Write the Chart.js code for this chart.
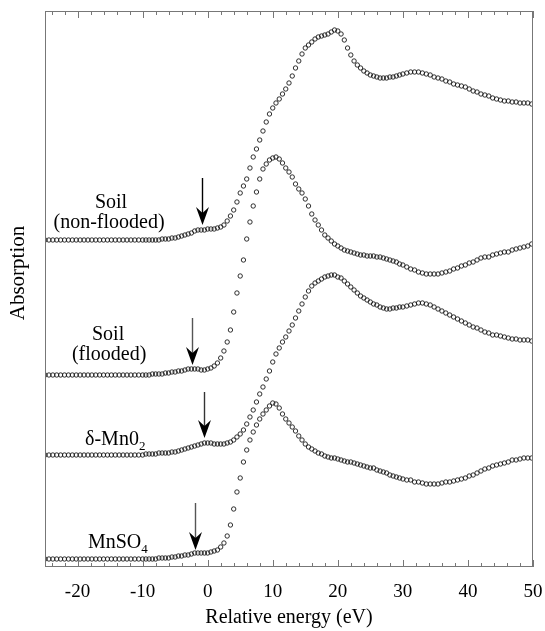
<!DOCTYPE html>
<html>
<head>
<meta charset="utf-8">
<script src="https://cdn.jsdelivr.net/npm/chart.js@4.4.1/dist/chart.umd.min.js"></script>
<style>
  body { margin: 0; background: #fff; }
  #wrap { width: 545px; height: 631px; position: relative; }
</style>
</head>
<body>
<div id="wrap"><canvas id="xanes"></canvas></div>
<script>
// energy grid (eV): coarse pre-edge, fine edge region, coarse post-edge
const energyPre = [
  -25, -24.4, -23.8, -23.2, -22.6, -22, -21.4, -20.8, -20.2, -19.6,
  -19, -18.4, -17.8, -17.2, -16.6, -16, -15.4, -14.8, -14.2, -13.6,
  -13, -12.4, -11.8, -11.2, -10.6
];
const energyEdge = [
  -10, -9.5, -9, -8.5, -8, -7.5, -7, -6.5, -6, -5.5,
  -5, -4.5, -4, -3.5, -3, -2.5, -2, -1.5, -1, -0.5,
  0, 0.5, 1, 1.5, 2, 2.5, 3, 3.5, 4, 4.5,
  5, 5.5, 6, 6.5, 7, 7.5, 8, 8.5, 9, 9.5,
  10, 10.5, 11, 11.5, 12, 12.5, 13, 13.5, 14, 14.5,
  15, 15.5, 16, 16.5, 17, 17.5, 18, 18.5, 19, 19.5,
  20, 20.5, 21, 21.5, 22, 22.5, 23, 23.5, 24, 24.5,
  25, 25.5, 26, 26.5, 27, 27.5, 28, 28.5, 29, 29.5,
  30
];
const energyPost = [
  30.6, 31.2, 31.8, 32.4, 33, 33.6, 34.2, 34.8, 35.4, 36,
  36.6, 37.2, 37.8, 38.4, 39, 39.6, 40.2, 40.8, 41.4, 42,
  42.6, 43.2, 43.8, 44.4, 45, 45.6, 46.2, 46.8, 47.4, 48,
  48.6, 49.2, 49.8
];

// absorption (offset, arbitrary units)
const soilNonFloodedPre = [
  3.27, 3.27, 3.27, 3.27, 3.27, 3.27, 3.27, 3.27, 3.27, 3.27,
  3.27, 3.27, 3.27, 3.27, 3.27, 3.27, 3.27, 3.27, 3.27, 3.27,
  3.27, 3.27, 3.27, 3.27, 3.27
];
const soilNonFloodedEdge = [
  3.27, 3.27, 3.27, 3.27, 3.27, 3.27, 3.28, 3.28, 3.28, 3.29,
  3.29, 3.30, 3.31, 3.32, 3.33, 3.34, 3.36, 3.37, 3.37, 3.37,
  3.38, 3.38, 3.38, 3.39, 3.40, 3.42, 3.46, 3.51, 3.57, 3.65,
  3.74, 3.81, 3.88, 3.99, 4.10, 4.18, 4.27, 4.36, 4.45, 4.53,
  4.59, 4.64, 4.68, 4.73, 4.78, 4.84, 4.91, 4.99, 5.06, 5.13,
  5.19, 5.22, 5.25, 5.28, 5.30, 5.31, 5.32, 5.33, 5.35, 5.37,
  5.36, 5.33, 5.27, 5.19, 5.12, 5.06, 5.02, 4.99, 4.96, 4.94,
  4.92, 4.91, 4.90, 4.89, 4.89, 4.89, 4.90, 4.90, 4.91, 4.92,
  4.93
];
const soilNonFloodedPost = [
  4.94, 4.95, 4.95, 4.95, 4.94, 4.93, 4.92, 4.90, 4.89, 4.88,
  4.86, 4.85, 4.83, 4.82, 4.81, 4.80, 4.78, 4.76, 4.75, 4.73,
  4.72, 4.71, 4.69, 4.68, 4.67, 4.66, 4.66, 4.65, 4.65, 4.64,
  4.64, 4.64, 4.63
];

const soilFloodedPre = [
  1.92, 1.92, 1.92, 1.92, 1.92, 1.92, 1.92, 1.92, 1.92, 1.92,
  1.92, 1.92, 1.92, 1.92, 1.92, 1.92, 1.92, 1.92, 1.92, 1.92,
  1.92, 1.92, 1.92, 1.92, 1.92
];
const soilFloodedEdge = [
  1.92, 1.92, 1.92, 1.93, 1.93, 1.93, 1.93, 1.94, 1.94, 1.95,
  1.95, 1.96, 1.96, 1.97, 1.98, 1.98, 1.98, 1.98, 1.97, 1.97,
  1.98, 1.99, 2.01, 2.04, 2.09, 2.16, 2.25, 2.37, 2.55, 2.74,
  2.91, 3.07, 3.28, 3.45, 3.61, 3.75, 3.88, 3.98, 4.03, 4.07,
  4.09, 4.10, 4.08, 4.04, 3.99, 3.95, 3.90, 3.83, 3.78, 3.74,
  3.68, 3.61, 3.53, 3.47, 3.42, 3.37, 3.32, 3.29, 3.26, 3.23,
  3.21, 3.19, 3.17, 3.16, 3.15, 3.14, 3.13, 3.12, 3.12, 3.11,
  3.11, 3.11, 3.10, 3.10, 3.09, 3.08, 3.07, 3.06, 3.05, 3.03,
  3.02
];
const soilFloodedPost = [
  3.00, 2.98, 2.97, 2.95, 2.94, 2.93, 2.93, 2.93, 2.93, 2.94,
  2.95, 2.96, 2.98, 2.99, 3.01, 3.02, 3.04, 3.05, 3.07, 3.09,
  3.10, 3.10, 3.12, 3.13, 3.14, 3.15, 3.15, 3.17, 3.18, 3.19,
  3.20, 3.21, 3.23
];

const deltaMnO2Pre = [
  1.12, 1.12, 1.12, 1.12, 1.12, 1.12, 1.12, 1.12, 1.12, 1.12,
  1.12, 1.12, 1.12, 1.12, 1.12, 1.12, 1.12, 1.12, 1.12, 1.12,
  1.12, 1.12, 1.12, 1.12, 1.12
];
const deltaMnO2Edge = [
  1.12, 1.13, 1.13, 1.13, 1.13, 1.14, 1.14, 1.14, 1.14, 1.15,
  1.15, 1.16, 1.17, 1.18, 1.19, 1.20, 1.21, 1.22, 1.23, 1.24,
  1.24, 1.24, 1.23, 1.23, 1.23, 1.23, 1.24, 1.25, 1.27, 1.30,
  1.33, 1.37, 1.43, 1.50, 1.57, 1.65, 1.73, 1.80, 1.88, 1.96,
  2.05, 2.13, 2.19, 2.25, 2.30, 2.36, 2.42, 2.49, 2.56, 2.63,
  2.70, 2.76, 2.81, 2.84, 2.86, 2.88, 2.90, 2.91, 2.92, 2.92,
  2.90, 2.89, 2.86, 2.83, 2.80, 2.77, 2.74, 2.71, 2.69, 2.67,
  2.65, 2.63, 2.62, 2.60, 2.59, 2.58, 2.58, 2.59, 2.59, 2.60,
  2.60
];
const deltaMnO2Post = [
  2.61, 2.62, 2.63, 2.64, 2.64, 2.63, 2.62, 2.60, 2.58, 2.56,
  2.54, 2.52, 2.50, 2.48, 2.46, 2.44, 2.42, 2.40, 2.39, 2.37,
  2.35, 2.34, 2.32, 2.32, 2.31, 2.30, 2.29, 2.28, 2.28, 2.27,
  2.27, 2.27, 2.26
];

const mnSO4Pre = [
  0.08, 0.08, 0.08, 0.08, 0.08, 0.08, 0.08, 0.08, 0.08, 0.08,
  0.08, 0.08, 0.08, 0.08, 0.08, 0.08, 0.08, 0.08, 0.08, 0.08,
  0.08, 0.08, 0.08, 0.08, 0.08
];
const mnSO4Edge = [
  0.08, 0.08, 0.08, 0.08, 0.08, 0.09, 0.09, 0.09, 0.09, 0.10,
  0.10, 0.11, 0.11, 0.12, 0.12, 0.13, 0.14, 0.14, 0.14, 0.14,
  0.14, 0.15, 0.16, 0.17, 0.20, 0.24, 0.31, 0.42, 0.58, 0.75,
  0.89, 1.05, 1.17, 1.27, 1.35, 1.42, 1.48, 1.53, 1.57, 1.61,
  1.64, 1.63, 1.59, 1.53, 1.48, 1.44, 1.40, 1.36, 1.31, 1.27,
  1.23, 1.20, 1.18, 1.16, 1.14, 1.13, 1.11, 1.10, 1.09, 1.09,
  1.08, 1.07, 1.06, 1.05, 1.05, 1.04, 1.03, 1.02, 1.01, 1.00,
  0.99, 0.99, 0.97, 0.96, 0.95, 0.94, 0.92, 0.91, 0.90, 0.89,
  0.88
];
const mnSO4Post = [
  0.87, 0.87, 0.85, 0.85, 0.84, 0.83, 0.83, 0.83, 0.83, 0.84,
  0.85, 0.85, 0.86, 0.87, 0.88, 0.89, 0.91, 0.92, 0.94, 0.96,
  0.98, 0.99, 1.01, 1.02, 1.03, 1.04, 1.05, 1.07, 1.07, 1.08,
  1.09, 1.09, 1.09
];

const xTickLabels = [-20, -10, 0, 10, 20, 30, 40, 50];

// pre-edge arrows: energy, top and tip in absorption units
const arrowX = [-0.85, -2.4, -0.5, -2.0];
const arrowTop = [3.89, 2.49, 1.75, 0.64];
const arrowTip = [3.42, 2.02, 1.29, 0.17];

const serif = '"Liberation Serif", "Times New Roman", serif';
const energy = [...energyPre, ...energyEdge, ...energyPost];

function series(pre, edge, post) {
  const values = [...pre, ...edge, ...post];
  return energy.map((e, i) => ({ x: e, y: values[i] }));
}

function pointSet(label, data) {
  return {
    label: label,
    data: data,
    showLine: false,
    pointStyle: 'circle',
    pointRadius: 2.2,
    pointBorderWidth: 0.9,
    pointBorderColor: '#1a1a1a',
    pointBackgroundColor: 'rgba(0,0,0,0)'
  };
}

function drawArrow(ctx, x, yTop, yTip, color) {
  ctx.save();
  ctx.strokeStyle = color;
  ctx.fillStyle = '#000';
  ctx.lineWidth = 1.4;
  ctx.beginPath();
  ctx.moveTo(x, yTop);
  ctx.lineTo(x, yTip - 8);
  ctx.stroke();
  ctx.beginPath();
  ctx.moveTo(x, yTip);
  ctx.lineTo(x - 6.5, yTip - 18);
  ctx.lineTo(x, yTip - 12);
  ctx.lineTo(x + 6.5, yTip - 18);
  ctx.closePath();
  ctx.fill();
  ctx.restore();
}

function drawSub(ctx, main, sub, x, y) {
  ctx.textAlign = 'left';
  ctx.textBaseline = 'middle';
  ctx.font = '20px ' + serif;
  ctx.fillText(main, x, y);
  const w = ctx.measureText(main).width;
  ctx.font = '13px ' + serif;
  ctx.fillText(sub, x + w, y + 7);
}

const decorations = {
  id: 'decorations',
  afterDraw(chart) {
    const ctx = chart.ctx;
    const area = chart.chartArea;
    const xs = chart.scales.x;
    const ys = chart.scales.y;

    // frame
    ctx.save();
    ctx.strokeStyle = '#777';
    ctx.lineWidth = 1;
    ctx.strokeRect(area.left + 0.5, area.top + 0.5, area.right - area.left - 1, area.bottom - area.top - 1);

    // inward tick marks on bottom and top, every 2 eV
    ctx.beginPath();
    for (let v = -24; v <= 50; v += 2) {
      const px = Math.round(xs.getPixelForValue(v)) + 0.5;
      const len = v % 10 === 0 ? 7 : 4;
      ctx.moveTo(px, area.bottom);
      ctx.lineTo(px, area.bottom - len);
      ctx.moveTo(px, area.top);
      ctx.lineTo(px, area.top + len);
    }
    ctx.stroke();
    ctx.restore();

    // arrows
    const arrowColors = ['#000', '#555', '#333', '#555'];
    arrowX.forEach((ax, i) => {
      drawArrow(ctx, Math.round(xs.getPixelForValue(ax)) + 0.5,
        ys.getPixelForValue(arrowTop[i]), ys.getPixelForValue(arrowTip[i]), arrowColors[i]);
    });

    // sample labels
    ctx.save();
    ctx.fillStyle = '#000';
    ctx.font = '20px ' + serif;
    ctx.textAlign = 'center';
    ctx.textBaseline = 'middle';
    ctx.fillText('Soil', xs.getPixelForValue(-14.85), ys.getPixelForValue(3.64));
    ctx.fillText('(non-flooded)', xs.getPixelForValue(-15.15), ys.getPixelForValue(3.44));
    ctx.fillText('Soil', xs.getPixelForValue(-15.3), ys.getPixelForValue(2.32));
    ctx.fillText('(flooded)', xs.getPixelForValue(-15.15), ys.getPixelForValue(2.12));
    drawSub(ctx, 'δ-Mn0', '2', xs.getPixelForValue(-18.85), ys.getPixelForValue(1.27));
    drawSub(ctx, 'MnSO', '4', xs.getPixelForValue(-18.4), ys.getPixelForValue(0.24));

    // y axis title
    ctx.translate(18, 273);
    ctx.rotate(-Math.PI / 2);
    ctx.font = '21px ' + serif;
    ctx.textAlign = 'center';
    ctx.textBaseline = 'middle';
    ctx.fillText('Absorption', 0, 0);
    ctx.restore();
  }
};

new Chart('xanes', {
  type: 'scatter',
  data: {
    datasets: [
      pointSet('Soil (non-flooded)', series(soilNonFloodedPre, soilNonFloodedEdge, soilNonFloodedPost)),
      pointSet('Soil (flooded)', series(soilFloodedPre, soilFloodedEdge, soilFloodedPost)),
      pointSet('δ-MnO2', series(deltaMnO2Pre, deltaMnO2Edge, deltaMnO2Post)),
      pointSet('MnSO4', series(mnSO4Pre, mnSO4Edge, mnSO4Post))
    ]
  },
  options: {
    responsive: true,
    maintainAspectRatio: false,
    animation: false,
    layout: { padding: { left: 45, right: 12, top: 11, bottom: 0 } },
    plugins: {
      legend: { display: false },
      tooltip: { enabled: false }
    },
    scales: {
      x: {
        type: 'linear',
        min: -25,
        max: 50,
        grid: { display: false, drawTicks: false },
        border: { display: false },
        ticks: {
          stepSize: 10,
          includeBounds: false,
          padding: 14,
          color: '#000',
          font: { family: serif, size: 19 },
          callback: (v) => (xTickLabels.includes(v) ? String(v) : '')
        },
        title: {
          display: true,
          text: 'Relative energy (eV)',
          color: '#000',
          font: { family: serif, size: 20 },
          padding: { top: 0, bottom: 1 }
        },
        afterFit: (scale) => {
          scale.height = 64;
          scale.paddingLeft = 0;
          scale.paddingRight = 0;
        }
      },
      y: {
        display: false,
        min: 0,
        max: 5.56
      }
    }
  },
  plugins: [decorations]
});
</script>
</body>
</html>
